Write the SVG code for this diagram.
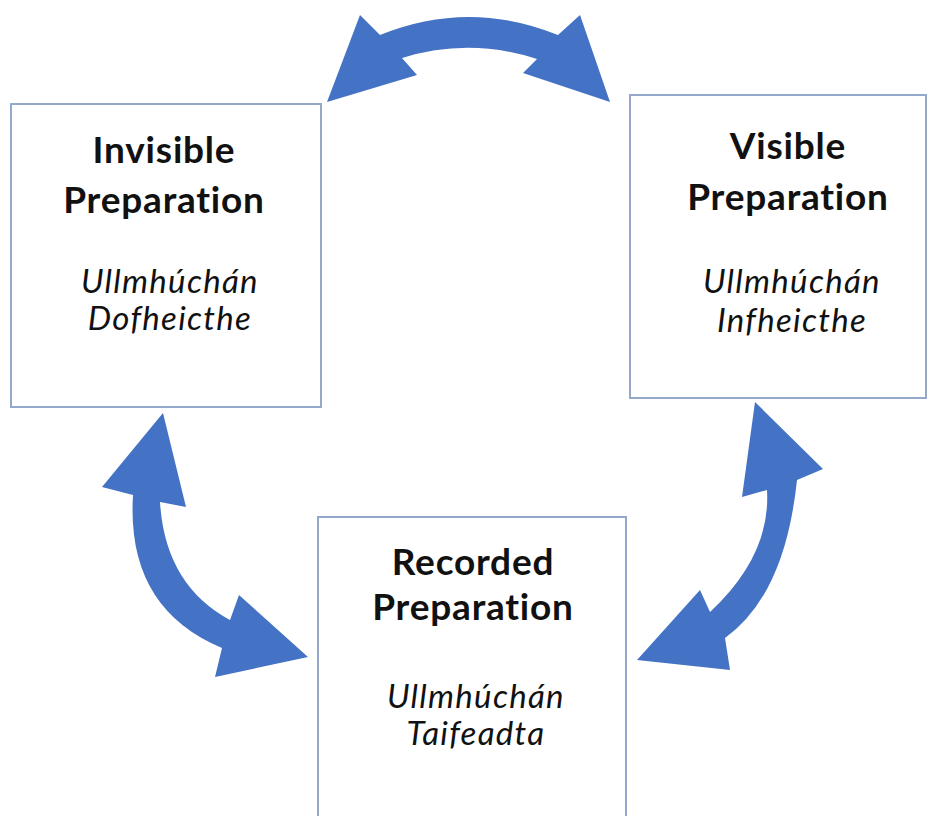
<svg xmlns="http://www.w3.org/2000/svg" width="927" height="816" viewBox="0 0 927 816">
<style>
.box{fill:#fff;stroke:#94A8CC;stroke-width:2}
.t{font-family:Lato,"Open Sans","Liberation Sans",sans-serif;font-weight:bold;font-size:37px;letter-spacing:0.8px;font-variant-ligatures:none;fill:#111;text-anchor:middle}
.i{font-family:Lato,"Open Sans","Liberation Sans",sans-serif;font-style:italic;font-size:33px;letter-spacing:1.3px;font-variant-ligatures:none;fill:#111;text-anchor:middle}
.arr{fill:#4472C4}
</style>
<rect width="927" height="816" fill="#fff"/>
<g id="invisible">
<rect class="box" x="11" y="104" width="310" height="303"/>
<text class="t" x="164" y="163">Invisible</text>
<text class="t" x="164" y="213">Preparation</text>
<text class="i" x="170" y="293">Ullmhúchán</text>
<text class="i" x="170" y="330">Dofheicthe</text>
</g>
<g id="visible">
<rect class="box" x="630" y="95" width="296" height="303"/>
<text class="t" x="788" y="159">Visible</text>
<text class="t" x="788" y="210">Preparation</text>
<text class="i" x="792" y="293">Ullmhúchán</text>
<text class="i" x="792" y="332">Infheicthe</text>
</g>
<g id="recorded">
<rect class="box" x="318" y="517" width="308" height="310"/>
<text class="t" x="473" y="575">Recorded</text>
<text class="t" x="473" y="620">Preparation</text>
<text class="i" x="476" y="708">Ullmhúchán</text>
<text class="i" x="476" y="745">Taifeadta</text>
</g>
<g id="connectors">
<path class="arr" d="M327,102 L360,15 L380,35 Q469,-1 558,35 L580,15 L610,102 L523,73 L537,59 Q469,37 402,58 L417,75 Z"/>
<path class="arr" d="M163,413 L186,507 L160,502 Q165,585 230,620 L239,595 L308,657 L215,677 L222,648 Q126,608 133,495 L102,487 Z"/>
<path class="arr" d="M755,402 L823,469 L797,480 Q785,595 725,638 L730,670 L637,660 L700,590 L710,612 Q771,555 767,490 L742,497 Z"/>
</g>
</svg>
